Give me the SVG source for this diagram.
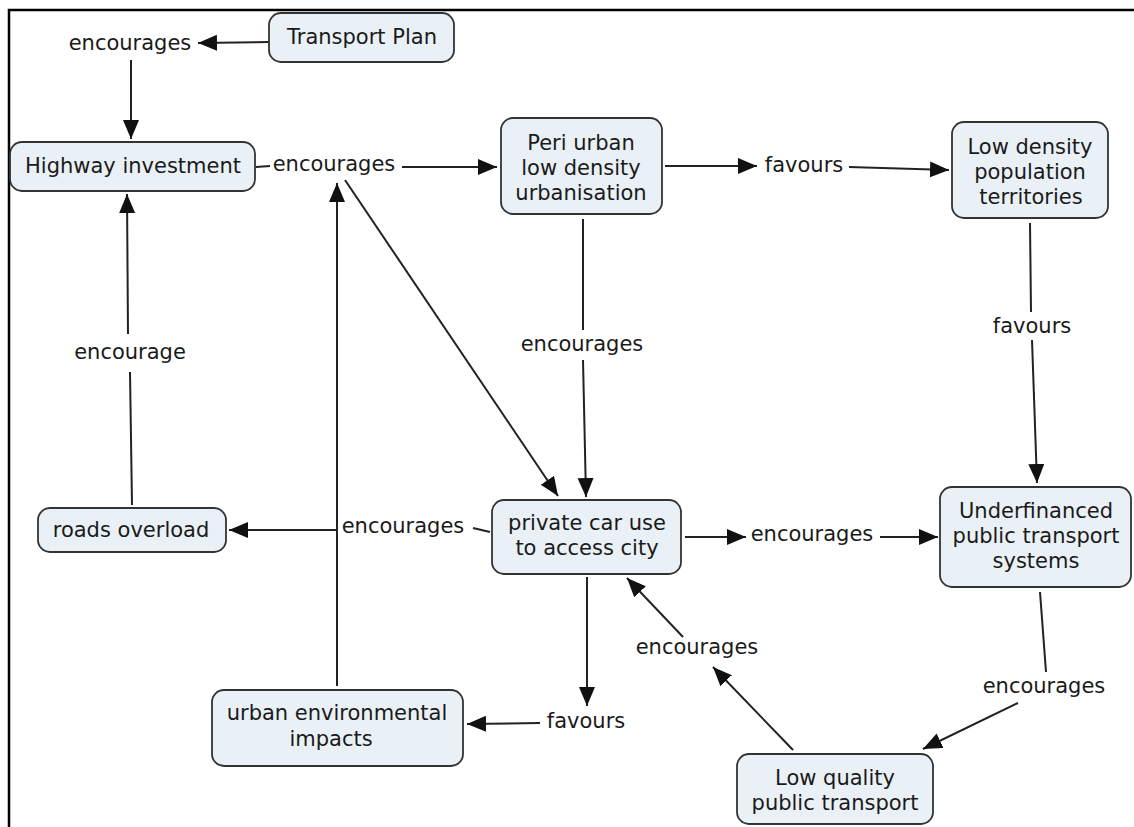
<svg xmlns="http://www.w3.org/2000/svg" width="1134" height="827" viewBox="0 0 1134 827">
<style>
.n rect{fill:#eaf1f6;stroke:#333;stroke-width:1.8}
text{font-family:"DejaVu Sans","Liberation Sans",sans-serif;font-size:21px;fill:#1a1a1a;text-anchor:middle;dominant-baseline:central}
.c line{stroke:#222;stroke-width:2;fill:none}
.a{marker-end:url(#ah)}
</style>
<defs>
<marker id="ah" markerUnits="userSpaceOnUse" markerWidth="21" markerHeight="17" refX="19" refY="8" orient="auto">
<path d="M0,0 L19,8 L0,16 z" fill="#111"/>
</marker>
</defs>
<rect width="1134" height="827" fill="#fff"/>
<path d="M9,827 V10 H1134" fill="none" stroke="#000" stroke-width="2.5"/>

<g class="c" id="connectors">
<line class="a" x1="269" y1="42" x2="198" y2="43"/>
<line class="a" x1="131" y1="60" x2="131" y2="139"/>
<line x1="256" y1="167" x2="270" y2="166"/>
<line class="a" x1="402" y1="167" x2="497" y2="167"/>
<line class="a" x1="345" y1="180" x2="558" y2="496"/>
<line x1="583" y1="219" x2="583" y2="330"/>
<line class="a" x1="583" y1="360" x2="586" y2="497"/>
<line class="a" x1="665" y1="166" x2="757" y2="166"/>
<line class="a" x1="849" y1="167" x2="949" y2="170"/>
<line x1="1030" y1="223" x2="1031" y2="312"/>
<line class="a" x1="1032" y1="340" x2="1037" y2="483"/>
<line class="a" x1="685" y1="537" x2="746" y2="537"/>
<line class="a" x1="880" y1="537" x2="938" y2="537"/>
<line x1="1040" y1="592" x2="1046" y2="672"/>
<line class="a" x1="1018" y1="703" x2="923" y2="749"/>
<line class="a" x1="793" y1="750" x2="713" y2="667"/>
<line class="a" x1="683" y1="637" x2="627" y2="578"/>
<line class="a" x1="587" y1="577" x2="587" y2="706"/>
<line class="a" x1="540" y1="723" x2="467" y2="724"/>
<line x1="490" y1="532" x2="473" y2="528"/>
<line class="a" x1="337" y1="530" x2="229" y2="530"/>
<line class="a" x1="337" y1="686" x2="337" y2="183"/>
<line x1="132" y1="505" x2="130" y2="372"/>
<line class="a" x1="128" y1="334" x2="127" y2="194"/>
</g>

<g id="labels">
<text x="130" y="43">encourages</text>
<text x="334" y="164">encourages</text>
<text x="582" y="344">encourages</text>
<text x="804" y="165">favours</text>
<text x="1032" y="326">favours</text>
<text x="812" y="534">encourages</text>
<text x="1044" y="686">encourages</text>
<text x="697" y="647">encourages</text>
<text x="586" y="721">favours</text>
<text x="403" y="526">encourages</text>
<text x="130" y="352">encourage</text>
</g>

<g class="n" id="n-transport-plan"><rect x="269" y="13" width="185" height="49" rx="12"/><text x="362" y="37">Transport Plan</text></g>
<g class="n" id="n-highway"><rect x="10" y="142" width="245" height="49" rx="12"/><text x="133" y="166">Highway investment</text></g>
<g class="n" id="n-peri"><rect x="501" y="118" width="161" height="96" rx="12"/><text x="581" y="143">Peri urban</text><text x="581" y="168">low density</text><text x="581" y="193">urbanisation</text></g>
<g class="n" id="n-lowdensity"><rect x="952" y="122" width="156" height="96" rx="12"/><text x="1030" y="147">Low density</text><text x="1030" y="172">population</text><text x="1031" y="197">territories</text></g>
<g class="n" id="n-private"><rect x="492" y="500" width="189" height="74" rx="12"/><text x="587" y="523">private car use</text><text x="587" y="548">to access city</text></g>
<g class="n" id="n-underfinanced"><rect x="940" y="487" width="191" height="100" rx="12"/><text x="1036" y="511">Underfinanced</text><text x="1036" y="536">public transport</text><text x="1036" y="561">systems</text></g>
<g class="n" id="n-roads"><rect x="38" y="508" width="188" height="44" rx="12"/><text x="131" y="530">roads overload</text></g>
<g class="n" id="n-urbanenv"><rect x="212" y="690" width="251" height="76" rx="12"/><text x="337" y="713">urban environmental</text><text x="331" y="739">impacts</text></g>
<g class="n" id="n-lowquality"><rect x="737" y="754" width="196" height="70" rx="12"/><text x="835" y="778">Low quality</text><text x="835" y="803">public transport</text></g>
</svg>
